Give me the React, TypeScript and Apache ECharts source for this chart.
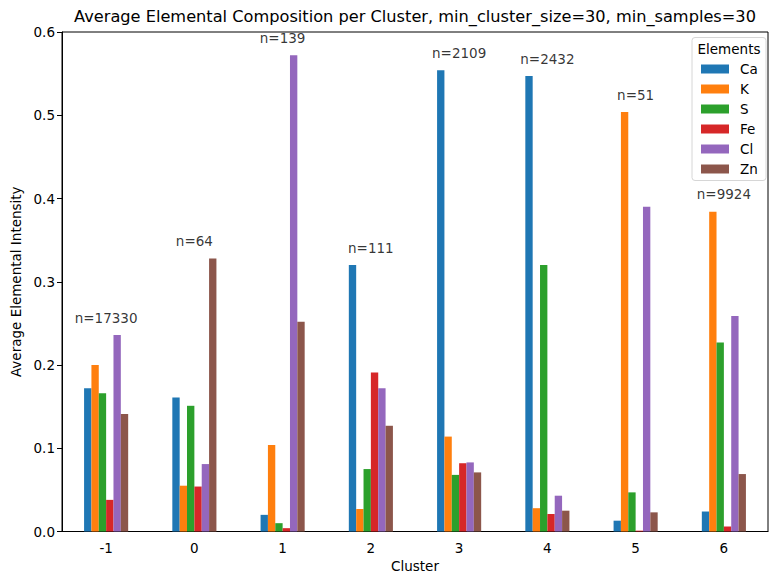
import React, { useEffect, useRef } from "react";
import * as echarts from "echarts";

const clusters = ["-1", "0", "1", "2", "3", "4", "5", "6"];
const elements = ["Ca", "K", "S", "Fe", "Cl", "Zn"];
const colors = ["#1f77b4", "#ff7f0e", "#2ca02c", "#d62728", "#9467bd", "#8c564b"];

const caValues = [0.172, 0.161, 0.020, 0.320, 0.554, 0.547, 0.013, 0.024];
const kValues = [0.200, 0.055, 0.104, 0.027, 0.114, 0.028, 0.504, 0.384];
const sValues = [0.166, 0.151, 0.010, 0.075, 0.068, 0.320, 0.047, 0.227];
const feValues = [0.038, 0.054, 0.004, 0.191, 0.082, 0.021, 0.001, 0.006];
const clValues = [0.236, 0.081, 0.572, 0.172, 0.083, 0.043, 0.390, 0.259];
const znValues = [0.141, 0.328, 0.252, 0.127, 0.071, 0.025, 0.023, 0.069];

const clusterSizes = [17330, 64, 139, 111, 2109, 2432, 51, 9924];

const seriesValues = [caValues, kValues, sValues, feValues, clValues, znValues];

const FONT = "DejaVu Sans";
const FS = 13.5;

export default function App() {
  const ref = useRef<HTMLDivElement>(null);

  useEffect(() => {
    if (!ref.current) return;
    const chart = echarts.init(ref.current, null, { renderer: "svg" });

    const labelPositions = clusters.map((_, i) =>
      Math.max(...seriesValues.map((s) => s[i])) + 0.01
    );

    const barSeries = elements.map((name, k) => ({
      name,
      type: "bar",
      data: seriesValues[k],
      barWidth: 7.35,
      barGap: "0%",
      itemStyle: { color: colors[k] },
    }));

    chart.setOption({
      animation: false,
      textStyle: { fontFamily: FONT },
      title: {
        text: "Average Elemental Composition per Cluster, min_cluster_size=30, min_samples=30",
        left: 410,
        textAlign: "center",
        top: 3,
        textStyle: { fontFamily: FONT, fontSize: 16.2, fontWeight: "normal", color: "#000" },
      },
      grid: {
        left: 62,
        right: 2,
        top: 32,
        bottom: 42.5,
        show: true,
        borderColor: "#000",
        borderWidth: 1,
        containLabel: false,
        outerBoundsMode: "none",
      },
      legend: {
        orient: "vertical",
        left: 701,
        top: 62,
        padding: 0,
        itemWidth: 28,
        itemHeight: 9,
        itemGap: 6,
        icon: "rect",
        data: elements,
        textStyle: {
          fontFamily: FONT,
          fontSize: FS,
          lineHeight: 14,
          color: "#000",
          padding: [0, 0, 0, 6],
        },
      },
      graphic: [
        {
          type: "rect",
          shape: { x: 692, y: 37.5, width: 74, height: 143, r: 3 },
          style: { fill: "rgba(255,255,255,0.8)", stroke: "#d6d6d6", lineWidth: 1 },
          z: 0,
        },
        {
          type: "text",
          x: 729,
          y: 49,
          style: {
            text: "Elements",
            fontFamily: FONT,
            fontSize: FS,
            fontWeight: "normal",
            fill: "#000",
            align: "center",
            verticalAlign: "middle",
          },
          z: 10,
        },
      ],
      xAxis: {
        type: "category",
        data: clusters,
        name: "Cluster",
        nameLocation: "middle",
        nameGap: 26,
        nameTextStyle: { fontFamily: FONT, fontSize: FS, color: "#000" },
        axisLine: { lineStyle: { color: "#000" } },
        axisTick: { alignWithLabel: true, length: 5, lineStyle: { color: "#000" } },
        axisLabel: { fontFamily: FONT, fontSize: FS, color: "#000", margin: 9 },
        splitLine: { show: false },
      },
      yAxis: {
        type: "value",
        min: 0,
        max: 0.6,
        interval: 0.1,
        name: "Average Elemental Intensity",
        nameLocation: "middle",
        nameGap: 37,
        nameTextStyle: { fontFamily: FONT, fontSize: FS, color: "#000" },
        axisLine: { show: true, lineStyle: { color: "#000" } },
        axisTick: { show: true, length: 5, lineStyle: { color: "#000" } },
        axisLabel: {
          fontFamily: FONT,
          fontSize: FS,
          color: "#000",
          margin: 7,
          formatter: (v: number) => v.toFixed(1),
        },
        splitLine: { show: false },
      },
      series: [
        ...barSeries,
        {
          name: "counts",
          type: "scatter",
          data: labelPositions,
          symbolSize: 0,
          silent: true,
          label: {
            show: true,
            position: "top",
            distance: 2,
            fontFamily: FONT,
            fontSize: FS,
            color: "#000",
            formatter: (p: any) => "n=" + clusterSizes[p.dataIndex],
          },
        },
      ],
    });

    return () => chart.dispose();
  }, []);

  return (
    <div
      ref={ref}
      style={{ position: "fixed", left: 0, top: 0, width: 770, height: 574, background: "#fff" }}
    />
  );
}
